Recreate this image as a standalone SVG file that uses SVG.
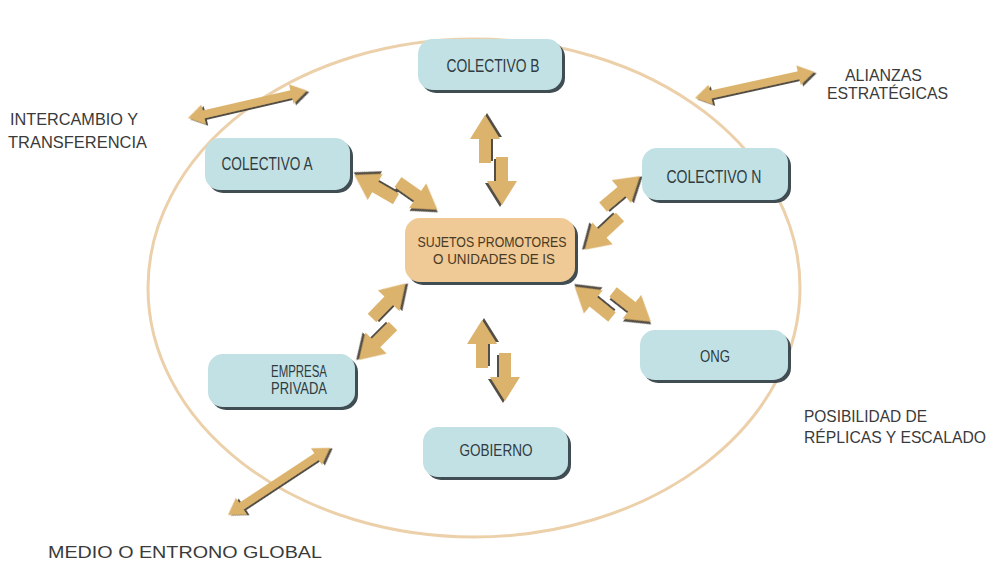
<svg xmlns="http://www.w3.org/2000/svg" xmlns:xlink="http://www.w3.org/1999/xlink" width="994" height="568" viewBox="0 0 994 568">
<defs>
<style>
.node rect{fill:#c2e1e5;filter:url(#bs)}
.center rect{fill:#efc996;filter:url(#bs)}
.nt{font-family:"Liberation Sans",Arial,sans-serif;fill:#2f3b40;text-anchor:middle}
.ct{font-family:"Liberation Sans",Arial,sans-serif;fill:#4a3a22;text-anchor:middle}
.lbl{font-family:"Liberation Sans",Arial,sans-serif;fill:#3a3a3a;font-size:16.5px}
.arr{fill:#dcb36c;filter:url(#as)}
</style>
<filter id="bs" x="-10%" y="-10%" width="125%" height="130%">
<feDropShadow dx="3" dy="3" stdDeviation="0.6" flood-color="#34444c" flood-opacity="0.95"/>
</filter>
<filter id="as" x="-20%" y="-20%" width="150%" height="150%">
<feDropShadow dx="2" dy="2" stdDeviation="0.5" flood-color="#3f3a30" flood-opacity="0.9"/>
</filter>
<path id="sa" d="M0,-6 L24,-6 L24,-15 L48,0 L24,15 L24,6 L0,6 Z"/>
<path id="da" d="M0,0 L16,-10 L16,-4 L106,-4 L106,-10 L122,0 L106,10 L106,4 L16,4 L16,10 Z"/>
</defs>
<rect width="994" height="568" fill="#ffffff"/>
<ellipse id="entorno" cx="474" cy="288" rx="326" ry="249" fill="none" stroke="#ecd0aa" stroke-width="3"/>
<g id="connectors">
<use xlink:href="#sa" class="arr" transform="translate(485,163) rotate(-90)"/>
<use xlink:href="#sa" class="arr" transform="translate(502,157) rotate(90)"/>
<use xlink:href="#sa" class="arr" transform="translate(482,368) rotate(-90)"/>
<use xlink:href="#sa" class="arr" transform="translate(505,353) rotate(90)"/>
<use xlink:href="#sa" class="arr" transform="translate(396,199) rotate(-150)"/>
<use xlink:href="#sa" class="arr" transform="translate(398,182) rotate(35)"/>
<use xlink:href="#sa" class="arr" transform="translate(603,207) rotate(-40)"/>
<use xlink:href="#sa" class="arr" transform="translate(620,217) rotate(137)"/>
<use xlink:href="#sa" class="arr" transform="translate(372,318) rotate(-46)"/>
<use xlink:href="#sa" class="arr" transform="translate(393,326) rotate(135)"/>
<use xlink:href="#sa" class="arr" transform="translate(612,317) rotate(-141)"/>
<use xlink:href="#sa" class="arr" transform="translate(613,292) rotate(38)"/>
<use xlink:href="#da" class="arr" transform="translate(188,118) rotate(-13)"/>
<use xlink:href="#da" class="arr" transform="translate(695,98) rotate(-12.4)"/>
<use xlink:href="#da" class="arr" transform="translate(228,515) rotate(-33.4)"/>
</g>
<g id="colectivo-b" class="node">
<rect x="418" y="39" width="144" height="51" rx="15"/>
<text class="nt" x="493" y="72" font-size="18" textLength="93" lengthAdjust="spacingAndGlyphs">COLECTIVO B</text>
</g>
<g id="colectivo-a" class="node">
<rect x="205" y="138" width="145" height="52" rx="15"/>
<text class="nt" x="267" y="170" font-size="18" textLength="91" lengthAdjust="spacingAndGlyphs">COLECTIVO A</text>
</g>
<g id="colectivo-n" class="node">
<rect x="642" y="148" width="146" height="52" rx="15"/>
<text class="nt" x="714" y="183" font-size="18" textLength="95" lengthAdjust="spacingAndGlyphs">COLECTIVO N</text>
</g>
<g id="sujetos" class="center">
<rect x="405" y="218" width="170" height="64" rx="15"/>
<text class="ct" x="492" y="247" font-size="14.5" textLength="149" lengthAdjust="spacingAndGlyphs">SUJETOS PROMOTORES</text>
<text class="ct" x="494" y="264" font-size="14.5" textLength="122" lengthAdjust="spacingAndGlyphs">O UNIDADES DE IS</text>
</g>
<g id="empresa" class="node">
<rect x="208" y="354" width="147" height="53" rx="15"/>
<text class="nt" x="299" y="377" font-size="16" textLength="56" lengthAdjust="spacingAndGlyphs">EMPRESA</text>
<text class="nt" x="299" y="394" font-size="16" textLength="56" lengthAdjust="spacingAndGlyphs">PRIVADA</text>
</g>
<g id="ong" class="node">
<rect x="640" y="330" width="148" height="50" rx="15"/>
<text class="nt" x="715" y="362" font-size="17" textLength="30" lengthAdjust="spacingAndGlyphs">ONG</text>
</g>
<g id="gobierno" class="node">
<rect x="423" y="427" width="145" height="50" rx="15"/>
<text class="nt" x="496" y="456" font-size="17" textLength="73" lengthAdjust="spacingAndGlyphs">GOBIERNO</text>
</g>
<g id="labels">
<text class="lbl" x="10" y="125" textLength="128" lengthAdjust="spacingAndGlyphs">INTERCAMBIO Y</text>
<text class="lbl" x="8" y="148" textLength="139" lengthAdjust="spacingAndGlyphs">TRANSFERENCIA</text>
<text class="lbl" x="845" y="81" textLength="77" lengthAdjust="spacingAndGlyphs">ALIANZAS</text>
<text class="lbl" x="827" y="99" textLength="121" lengthAdjust="spacingAndGlyphs">ESTRATÉGICAS</text>
<text class="lbl" x="804" y="422" textLength="123" lengthAdjust="spacingAndGlyphs">POSIBILIDAD DE</text>
<text class="lbl" x="804" y="443" textLength="182" lengthAdjust="spacingAndGlyphs">RÉPLICAS Y ESCALADO</text>
<text class="lbl" x="48" y="558" textLength="274" lengthAdjust="spacingAndGlyphs">MEDIO O ENTRONO GLOBAL</text>
</g>
</svg>
